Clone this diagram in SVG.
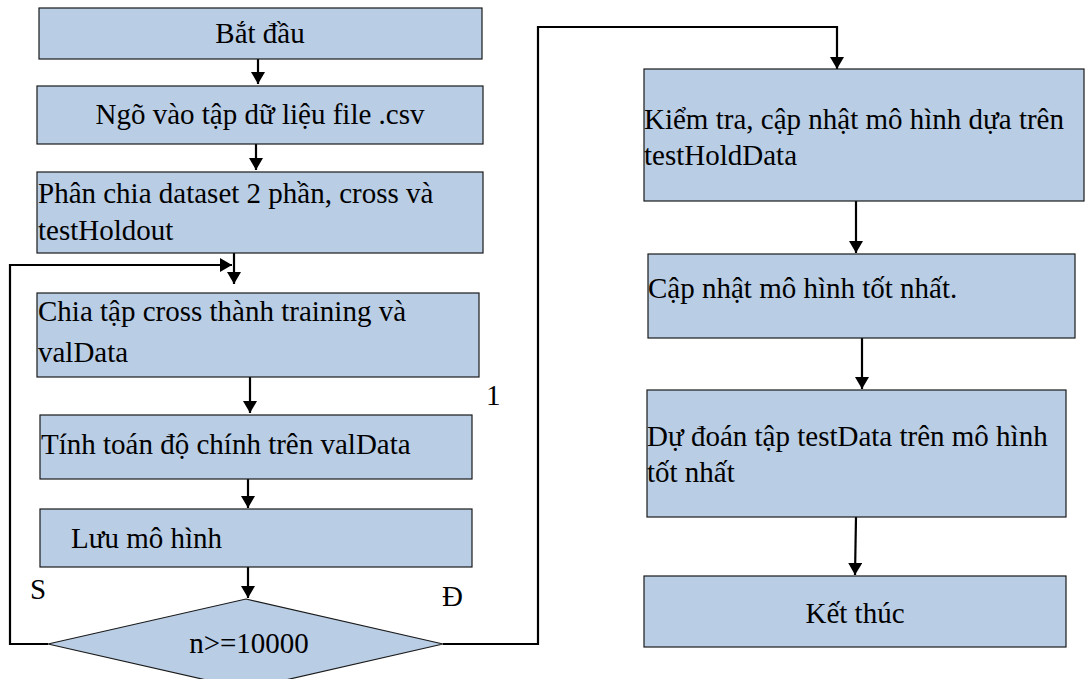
<svg xmlns="http://www.w3.org/2000/svg" width="1086" height="679" viewBox="0 0 1086 679">
  <style>
    .box { fill: #b9cde5; stroke: #1a1a1a; stroke-width: 1.2; }
    .c { text-anchor: middle; }
    .wire { fill: none; stroke: #000; stroke-width: 2.2; }
  </style>
  <defs>
    <marker id="ah" viewBox="0 0 12 14" refX="12" refY="7" markerWidth="12" markerHeight="14" markerUnits="userSpaceOnUse" orient="auto">
      <path d="M0,0 L12,7 L0,14 Z" fill="#000"/>
    </marker>
  </defs>

  <rect width="1086" height="679" fill="#fff"/>

  <g id="connectors">
    <line class="wire" x1="258" y1="59" x2="258" y2="84" marker-end="url(#ah)"/>
    <line class="wire" x1="256" y1="144" x2="256" y2="170" marker-end="url(#ah)"/>
    <line class="wire" x1="234" y1="253" x2="234" y2="284" marker-end="url(#ah)"/>
    <polyline class="wire" points="48,644 10,644 10,265 232,265" marker-end="url(#ah)"/>
    <line class="wire" x1="250" y1="377" x2="250" y2="413" marker-end="url(#ah)"/>
    <line class="wire" x1="248" y1="479" x2="248" y2="508" marker-end="url(#ah)"/>
    <line class="wire" x1="248" y1="567" x2="248" y2="598" marker-end="url(#ah)"/>
    <polyline class="wire" points="443,644 538,644 538,27 837,27 837,69" marker-end="url(#ah)"/>
    <line class="wire" x1="856" y1="201" x2="856" y2="253" marker-end="url(#ah)"/>
    <line class="wire" x1="862" y1="338" x2="862" y2="389" marker-end="url(#ah)"/>
    <line class="wire" x1="856" y1="517" x2="855" y2="575" marker-end="url(#ah)"/>
  </g>

  <g font-family="'Liberation Serif', serif" font-size="29" fill="#000">
    <g id="start">
      <rect class="box" x="39" y="8" width="443" height="51"/>
      <text class="c" x="260" y="43">Bắt đầu</text>
    </g>

    <g id="input">
      <rect class="box" x="37" y="86" width="446" height="58"/>
      <text class="c" x="260" y="124">Ngõ vào tập dữ liệu file .csv</text>
    </g>

    <g id="split">
      <rect class="box" x="37" y="172" width="446" height="81"/>
      <text x="38" y="203">Phân chia dataset 2 phần, cross và</text>
      <text x="38" y="240">testHoldout</text>
    </g>

    <g id="cross-split">
      <rect class="box" x="37" y="293" width="442" height="84"/>
      <text x="38" y="321">Chia tập cross thành training và</text>
      <text x="38" y="362">valData</text>
    </g>

    <g id="accuracy">
      <rect class="box" x="40" y="415" width="432" height="64"/>
      <text x="41" y="454">Tính toán độ chính trên valData</text>
    </g>

    <g id="save">
      <rect class="box" x="40" y="509" width="432" height="58"/>
      <text x="71" y="548">Lưu mô hình</text>
    </g>

    <g id="decision">
      <polygon class="box" points="246,599 443,644 246,689 48,644"/>
      <text class="c" x="249" y="653">n&gt;=10000</text>
    </g>

    <g id="labels">
      <text x="486" y="405">1</text>
      <text x="30" y="599">S</text>
      <text x="442" y="606">Đ</text>
    </g>

    <g id="holdout-check">
      <rect class="box" x="644" y="69" width="440" height="132"/>
      <text x="644" y="129">Kiểm tra, cập nhật mô hình dựa trên</text>
      <text x="644" y="165">testHoldData</text>
    </g>

    <g id="best-update">
      <rect class="box" x="648" y="254" width="427" height="84"/>
      <text x="648" y="298">Cập nhật mô hình tốt nhất.</text>
    </g>

    <g id="predict">
      <rect class="box" x="647" y="390" width="419" height="127"/>
      <text x="647" y="446">Dự đoán tập testData trên mô hình</text>
      <text x="647" y="482">tốt nhất</text>
    </g>

    <g id="end">
      <rect class="box" x="644" y="576" width="422" height="71"/>
      <text class="c" x="855" y="623">Kết thúc</text>
    </g>
  </g>
</svg>
